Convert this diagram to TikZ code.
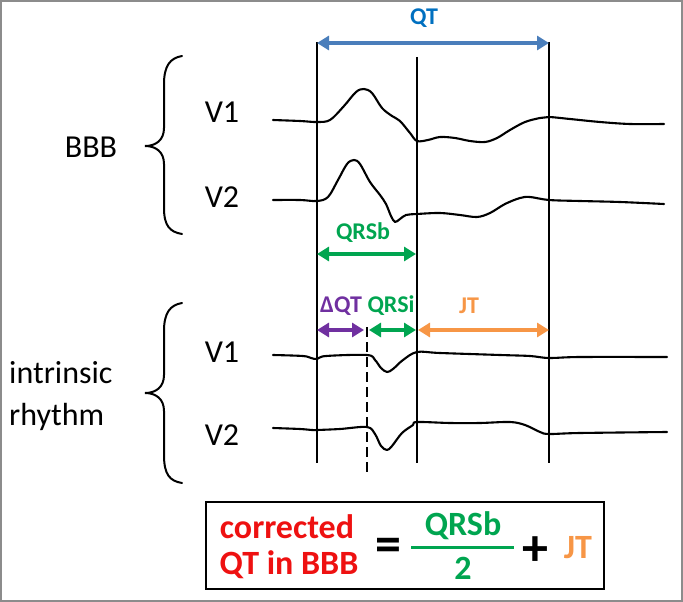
\documentclass[tikz,border=0pt]{standalone}
\usepackage{fontspec}
\setmainfont{Carlito}
\usetikzlibrary{arrows.meta}
\definecolor{qtblue}{HTML}{0070C0}
\definecolor{arrblue}{HTML}{4A7EBB}
\definecolor{qgreen}{HTML}{00A550}
\definecolor{jorange}{HTML}{F79646}
\definecolor{dpurple}{HTML}{7030A0}
\definecolor{cred}{HTML}{EE1111}
\definecolor{framegray}{HTML}{8C8C8C}
\begin{document}
\begin{tikzpicture}[x=1pt,y=-1pt,
  vline/.style={line width=2.8pt},
  trace/.style={line width=2.1pt, line join=round, line cap=round},
  dimarrow/.style={line width=3.8pt, {Triangle[length=12pt,width=14pt]}-{Triangle[length=12pt,width=14pt]}},
  lbl/.style={font=\fontsize{32}{36}\selectfont, inner sep=0pt},
  clbl/.style={font=\bfseries\fontsize{24}{28}\selectfont, inner sep=0pt},
  eqtext/.style={font=\bfseries\fontsize{34}{40}\selectfont, inner sep=0pt},
  eqsym/.style={font=\bfseries\fontsize{52}{56}\selectfont, inner sep=0pt},
  bracestyle/.style={line width=2pt, line cap=round}
]
\useasboundingbox (0,0) rectangle (683,602);
\draw[framegray, line width=2pt] (1,1) rectangle (682,601);

% vertical reference lines
\coordinate (L1t) at (317,42); \coordinate (L1b) at (317,463);
\coordinate (L2t) at (417,57); \coordinate (L2b) at (417,463);
\coordinate (L3t) at (549,42); \coordinate (L3b) at (549,463);
\coordinate (Dt) at (367,327); \coordinate (Db) at (367,474);
\draw[vline] (L1t) -- (L1b);
\draw[vline] (L2t) -- (L2b);
\draw[vline] (L3t) -- (L3b);
\draw[line width=2.8pt, dash pattern=on 10pt off 5pt] (Dt) -- (Db);

% dimension arrows
\coordinate (qtA) at (317,43); \coordinate (qtB) at (549,43);
\draw[dimarrow, arrblue] (qtA) -- (qtB);
\node[clbl, text=qtblue] (qtlbl) at (424,18) {QT};

\coordinate (qbA) at (317,254); \coordinate (qbB) at (416,254);
\draw[dimarrow, qgreen] (qbA) -- (qbB);
\node[clbl, text=qgreen] (qrsblbl) at (363,233) {QRSb};

\coordinate (dqA) at (317,330); \coordinate (dqB) at (364,330);
\draw[dimarrow, dpurple] (dqA) -- (dqB);
\node[clbl, text=dpurple] (dqtlbl) at (341,306) {ΔQT};

\coordinate (qiA) at (369,330); \coordinate (qiB) at (416,330);
\draw[dimarrow, qgreen] (qiA) -- (qiB);
\node[clbl, text=qgreen] (qrsilbl) at (391,306) {QRSi};

\coordinate (jtA) at (418,330); \coordinate (jtB) at (549,330);
\draw[dimarrow, jorange] (jtA) -- (jtB);
\node[clbl, text=jorange] (jtlbl) at (469,306) {JT};

% traces
\draw[trace] plot[smooth, tension=0.55] coordinates {(273,120) (300,121) (317,122) (330,120) (344,106) (356,92) (364,89) (372,93) (382,108) (392,116) (400,121) (410,133) (417,141) (428,140) (440,137) (455,138) (470,141) (485,142) (497,138) (510,130) (525,122) (540,118) (549,117) (570,119) (600,122) (630,124) (664,124)};
\draw[trace] plot[smooth, tension=0.55] coordinates {(273,200) (300,200) (317,201) (328,197) (338,180) (347,164) (354,160) (360,164) (370,182) (380,195) (386,204) (391,216) (395,222) (400,219) (406,215) (417,214) (440,213) (460,215) (477,217) (490,213) (505,204) (520,198) (530,197) (549,200) (580,201) (620,202) (664,204)};
\draw[trace] plot[smooth, tension=0.55] coordinates {(273,355) (303,356) (311,358) (317,359) (326,356) (367,355) (375,360) (381,368) (387,372) (393,369) (403,360) (417,352) (440,353) (500,355) (530,356) (549,358) (580,357) (667,357)};
\draw[trace] plot[smooth, tension=0.55] coordinates {(273,428) (300,429) (312,430) (317,430) (340,429) (367,427) (375,434) (381,446) (387,450) (392,446) (402,433) (413,425) (417,422) (450,423) (480,423) (510,422) (525,425) (540,432) (549,434) (580,433) (667,432)};

% braces
\draw[bracestyle] (182,56) .. controls (170,58) and (164,66) .. (164,84)
  -- (164,128) .. controls (164,140) and (156,146) .. (145,146)
  .. controls (156,146) and (164,152) .. (164,164)
  -- (164,208) .. controls (164,226) and (170,232) .. (182,234);
\draw[bracestyle] (182,303) .. controls (170,305) and (164,313) .. (164,331)
  -- (164,375) .. controls (164,387) and (156,393) .. (145,393)
  .. controls (156,393) and (164,399) .. (164,411)
  -- (164,455) .. controls (164,475) and (170,481) .. (182,483);

% labels
\node[lbl] (bbb) at (91,147) {BBB};
\node[lbl] (v1a) at (222,112) {V1};
\node[lbl] (v2a) at (222,197) {V2};
\node[lbl] (v1b) at (222,352) {V1};
\node[lbl] (v2b) at (222,435) {V2};
\node[lbl, anchor=west] (intr) at (9,373) {intrinsic};
\node[lbl, anchor=west] (rhy) at (9,417) {rhythm};

% equation box
\draw[line width=2.2pt] (206,502) rectangle (604,589);
\node[eqtext, text=cred] (corr) at (287,527) {corrected};
\node[eqtext, text=cred] (qtin) at (289,565) {QT in BBB};
\node[eqsym] (eqs) at (388,550) {=};
\node[eqtext, text=qgreen] (num) at (463,526) {QRSb};
\node[eqtext, text=qgreen] (den) at (463,568) {2};
\coordinate (fracA) at (411,547); \coordinate (fracB) at (514,547);
\draw[qgreen, line width=3pt] (fracA) -- (fracB);
\node[eqsym] (plus) at (535,551) {+};
\node[eqtext, text=jorange] (jteq) at (578,548) {JT};
\end{tikzpicture}
\end{document}
